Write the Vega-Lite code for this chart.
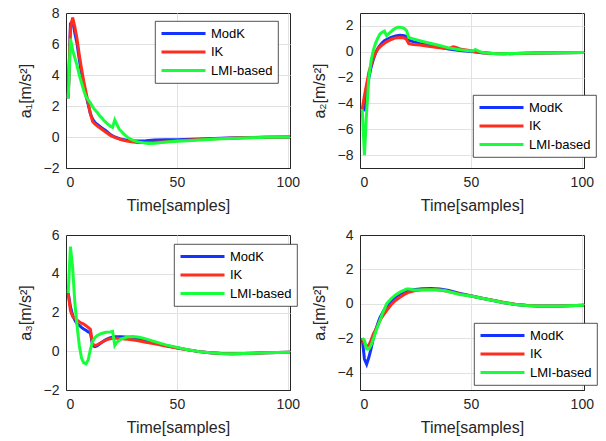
{
  "$schema": "https://vega.github.io/schema/vega-lite/v6.json",
  "background": "white",
  "padding": {"left": 16, "top": 5, "right": 5, "bottom": 5},
  "config": {
    "font": "Liberation Sans",
    "view": {"stroke": "#262626", "strokeWidth": 1},
    "axis": {
      "labelFont": "Liberation Sans", "labelFontSize": 14, "labelColor": "#262626",
      "titleFont": "Liberation Sans", "titleFontSize": 16, "titleFontWeight": "normal", "titleColor": "#262626",
      "gridColor": "#e2e2e2", "gridWidth": 1, "domain": true, "domainColor": "#262626", "domainWidth": 1, "ticks": false, "labelPadding": 7
    },
    "axisX": {"titlePadding": 8},
    "axisY": {"titlePadding": 10},
    "legend": {
      "symbolType": "stroke", "symbolSize": 1936, "symbolStrokeWidth": 3,
      "labelFont": "Liberation Sans", "labelFontSize": 13, "labelColor": "#000000",
      "padding": 5, "strokeColor": "#262626", "strokeWidth": 0.8, "fillColor": "white",
      "clipHeight": 15, "rowPadding": 3.5, "labelOffset": 4
    }
  },
  "datasets": {
    "p1": [
      {"s":"ModK","x":1,"y":2.5},{"s":"ModK","x":2,"y":7.3},{"s":"ModK","x":3,"y":7.5},{"s":"ModK","x":4,"y":6.7},{"s":"ModK","x":5,"y":6.0},{"s":"ModK","x":6,"y":5.0},{"s":"ModK","x":7,"y":4.1},{"s":"ModK","x":8,"y":3.3},{"s":"ModK","x":9,"y":2.7},{"s":"ModK","x":10,"y":2.1},{"s":"ModK","x":11,"y":1.5},{"s":"ModK","x":12,"y":1.15},{"s":"ModK","x":13,"y":0.95},{"s":"ModK","x":14,"y":0.82},{"s":"ModK","x":16,"y":0.6},{"s":"ModK","x":18,"y":0.4},{"s":"ModK","x":20,"y":0.15},{"s":"ModK","x":22,"y":0.0},{"s":"ModK","x":25,"y":-0.15},{"s":"ModK","x":28,"y":-0.22},{"s":"ModK","x":32,"y":-0.25},{"s":"ModK","x":36,"y":-0.24},{"s":"ModK","x":40,"y":-0.2},{"s":"ModK","x":45,"y":-0.18},{"s":"ModK","x":50,"y":-0.17},{"s":"ModK","x":60,"y":-0.13},{"s":"ModK","x":70,"y":-0.08},{"s":"ModK","x":80,"y":-0.04},{"s":"ModK","x":90,"y":-0.02},{"s":"ModK","x":101,"y":0.0},
      {"s":"IK","x":1,"y":2.5},{"s":"IK","x":2,"y":7.0},{"s":"IK","x":3,"y":7.7},{"s":"IK","x":4,"y":7.1},{"s":"IK","x":5,"y":6.3},{"s":"IK","x":6,"y":5.3},{"s":"IK","x":7,"y":4.4},{"s":"IK","x":8,"y":3.6},{"s":"IK","x":9,"y":2.9},{"s":"IK","x":10,"y":2.2},{"s":"IK","x":11,"y":1.5},{"s":"IK","x":12,"y":1.0},{"s":"IK","x":13,"y":0.85},{"s":"IK","x":14,"y":0.72},{"s":"IK","x":16,"y":0.52},{"s":"IK","x":18,"y":0.3},{"s":"IK","x":20,"y":0.1},{"s":"IK","x":22,"y":-0.02},{"s":"IK","x":25,"y":-0.18},{"s":"IK","x":28,"y":-0.28},{"s":"IK","x":32,"y":-0.35},{"s":"IK","x":36,"y":-0.36},{"s":"IK","x":40,"y":-0.34},{"s":"IK","x":45,"y":-0.3},{"s":"IK","x":50,"y":-0.24},{"s":"IK","x":60,"y":-0.16},{"s":"IK","x":70,"y":-0.1},{"s":"IK","x":80,"y":-0.05},{"s":"IK","x":90,"y":-0.02},{"s":"IK","x":101,"y":0.0},
      {"s":"LMI-based","x":1,"y":2.5},{"s":"LMI-based","x":2,"y":6.35},{"s":"LMI-based","x":3,"y":5.6},{"s":"LMI-based","x":4,"y":5.1},{"s":"LMI-based","x":5,"y":4.6},{"s":"LMI-based","x":6,"y":4.0},{"s":"LMI-based","x":7,"y":3.5},{"s":"LMI-based","x":8,"y":3.0},{"s":"LMI-based","x":9,"y":2.6},{"s":"LMI-based","x":10,"y":2.4},{"s":"LMI-based","x":11,"y":2.2},{"s":"LMI-based","x":12,"y":1.95},{"s":"LMI-based","x":13,"y":1.75},{"s":"LMI-based","x":14,"y":1.6},{"s":"LMI-based","x":15,"y":1.4},{"s":"LMI-based","x":16,"y":1.25},{"s":"LMI-based","x":17,"y":1.08},{"s":"LMI-based","x":18,"y":0.95},{"s":"LMI-based","x":19,"y":0.82},{"s":"LMI-based","x":20,"y":0.7},{"s":"LMI-based","x":21,"y":0.62},{"s":"LMI-based","x":22,"y":1.1},{"s":"LMI-based","x":23,"y":0.8},{"s":"LMI-based","x":24,"y":0.5},{"s":"LMI-based","x":25,"y":0.35},{"s":"LMI-based","x":26,"y":0.2},{"s":"LMI-based","x":27,"y":0.08},{"s":"LMI-based","x":28,"y":-0.05},{"s":"LMI-based","x":30,"y":-0.2},{"s":"LMI-based","x":32,"y":-0.3},{"s":"LMI-based","x":35,"y":-0.38},{"s":"LMI-based","x":37,"y":-0.42},{"s":"LMI-based","x":40,"y":-0.4},{"s":"LMI-based","x":45,"y":-0.33},{"s":"LMI-based","x":50,"y":-0.28},{"s":"LMI-based","x":55,"y":-0.24},{"s":"LMI-based","x":60,"y":-0.2},{"s":"LMI-based","x":70,"y":-0.12},{"s":"LMI-based","x":80,"y":-0.06},{"s":"LMI-based","x":90,"y":-0.02},{"s":"LMI-based","x":101,"y":0.0}
    ],
    "p2": [
      {"s":"ModK","x":1,"y":-4.45},{"s":"ModK","x":2,"y":-4.5},{"s":"ModK","x":3,"y":-3.0},{"s":"ModK","x":4,"y":-2.0},{"s":"ModK","x":5,"y":-1.2},{"s":"ModK","x":6,"y":-0.6},{"s":"ModK","x":7,"y":-0.1},{"s":"ModK","x":8,"y":0.25},{"s":"ModK","x":9,"y":0.5},{"s":"ModK","x":10,"y":0.7},{"s":"ModK","x":11,"y":0.85},{"s":"ModK","x":12,"y":0.95},{"s":"ModK","x":14,"y":1.12},{"s":"ModK","x":16,"y":1.22},{"s":"ModK","x":18,"y":1.27},{"s":"ModK","x":20,"y":1.25},{"s":"ModK","x":21,"y":1.15},{"s":"ModK","x":22,"y":0.88},{"s":"ModK","x":24,"y":0.78},{"s":"ModK","x":27,"y":0.65},{"s":"ModK","x":30,"y":0.55},{"s":"ModK","x":35,"y":0.38},{"s":"ModK","x":40,"y":0.22},{"s":"ModK","x":45,"y":0.1},{"s":"ModK","x":50,"y":0.02},{"s":"ModK","x":55,"y":-0.08},{"s":"ModK","x":60,"y":-0.14},{"s":"ModK","x":65,"y":-0.15},{"s":"ModK","x":70,"y":-0.14},{"s":"ModK","x":80,"y":-0.1},{"s":"ModK","x":90,"y":-0.07},{"s":"ModK","x":101,"y":-0.05},
      {"s":"IK","x":1,"y":-4.45},{"s":"IK","x":2,"y":-3.4},{"s":"IK","x":3,"y":-2.5},{"s":"IK","x":4,"y":-1.6},{"s":"IK","x":5,"y":-1.0},{"s":"IK","x":6,"y":-0.5},{"s":"IK","x":7,"y":-0.1},{"s":"IK","x":8,"y":0.2},{"s":"IK","x":9,"y":0.38},{"s":"IK","x":10,"y":0.52},{"s":"IK","x":11,"y":0.65},{"s":"IK","x":12,"y":0.77},{"s":"IK","x":14,"y":0.95},{"s":"IK","x":16,"y":1.07},{"s":"IK","x":18,"y":1.1},{"s":"IK","x":20,"y":1.07},{"s":"IK","x":21,"y":0.95},{"s":"IK","x":22,"y":0.62},{"s":"IK","x":24,"y":0.56},{"s":"IK","x":27,"y":0.52},{"s":"IK","x":30,"y":0.45},{"s":"IK","x":35,"y":0.33},{"s":"IK","x":40,"y":0.24},{"s":"IK","x":42,"y":0.38},{"s":"IK","x":43,"y":0.35},{"s":"IK","x":45,"y":0.22},{"s":"IK","x":50,"y":0.07},{"s":"IK","x":55,"y":-0.08},{"s":"IK","x":60,"y":-0.14},{"s":"IK","x":65,"y":-0.15},{"s":"IK","x":70,"y":-0.14},{"s":"IK","x":80,"y":-0.1},{"s":"IK","x":90,"y":-0.07},{"s":"IK","x":101,"y":-0.05},
      {"s":"LMI-based","x":1,"y":-4.45},{"s":"LMI-based","x":2,"y":-8.0},{"s":"LMI-based","x":3,"y":-4.6},{"s":"LMI-based","x":4,"y":-2.0},{"s":"LMI-based","x":5,"y":-0.7},{"s":"LMI-based","x":6,"y":0.1},{"s":"LMI-based","x":7,"y":0.65},{"s":"LMI-based","x":8,"y":1.05},{"s":"LMI-based","x":9,"y":1.37},{"s":"LMI-based","x":10,"y":1.5},{"s":"LMI-based","x":11,"y":1.6},{"s":"LMI-based","x":12,"y":1.24},{"s":"LMI-based","x":13,"y":1.4},{"s":"LMI-based","x":14,"y":1.55},{"s":"LMI-based","x":15,"y":1.7},{"s":"LMI-based","x":16,"y":1.82},{"s":"LMI-based","x":17,"y":1.9},{"s":"LMI-based","x":18,"y":1.9},{"s":"LMI-based","x":19,"y":1.87},{"s":"LMI-based","x":20,"y":1.8},{"s":"LMI-based","x":21,"y":1.62},{"s":"LMI-based","x":22,"y":1.1},{"s":"LMI-based","x":24,"y":1.0},{"s":"LMI-based","x":27,"y":0.85},{"s":"LMI-based","x":30,"y":0.72},{"s":"LMI-based","x":35,"y":0.52},{"s":"LMI-based","x":40,"y":0.3},{"s":"LMI-based","x":45,"y":0.15},{"s":"LMI-based","x":50,"y":0.05},{"s":"LMI-based","x":51,"y":0.05},{"s":"LMI-based","x":52,"y":0.18},{"s":"LMI-based","x":53,"y":0.08},{"s":"LMI-based","x":55,"y":-0.05},{"s":"LMI-based","x":58,"y":-0.12},{"s":"LMI-based","x":62,"y":-0.15},{"s":"LMI-based","x":70,"y":-0.13},{"s":"LMI-based","x":80,"y":-0.1},{"s":"LMI-based","x":90,"y":-0.07},{"s":"LMI-based","x":101,"y":-0.05}
    ],
    "p3": [
      {"s":"ModK","x":1,"y":3.0},{"s":"ModK","x":2,"y":2.3},{"s":"ModK","x":3,"y":1.85},{"s":"ModK","x":4,"y":1.6},{"s":"ModK","x":5,"y":1.42},{"s":"ModK","x":6,"y":1.33},{"s":"ModK","x":7,"y":1.23},{"s":"ModK","x":8,"y":1.15},{"s":"ModK","x":9,"y":1.08},{"s":"ModK","x":10,"y":1.0},{"s":"ModK","x":11,"y":0.95},{"s":"ModK","x":12,"y":0.3},{"s":"ModK","x":13,"y":0.24},{"s":"ModK","x":14,"y":0.28},{"s":"ModK","x":16,"y":0.45},{"s":"ModK","x":18,"y":0.6},{"s":"ModK","x":20,"y":0.7},{"s":"ModK","x":22,"y":0.75},{"s":"ModK","x":25,"y":0.75},{"s":"ModK","x":28,"y":0.72},{"s":"ModK","x":32,"y":0.62},{"s":"ModK","x":36,"y":0.52},{"s":"ModK","x":40,"y":0.42},{"s":"ModK","x":45,"y":0.3},{"s":"ModK","x":50,"y":0.18},{"s":"ModK","x":55,"y":0.07},{"s":"ModK","x":60,"y":-0.02},{"s":"ModK","x":65,"y":-0.08},{"s":"ModK","x":70,"y":-0.12},{"s":"ModK","x":75,"y":-0.13},{"s":"ModK","x":80,"y":-0.12},{"s":"ModK","x":90,"y":-0.08},{"s":"ModK","x":101,"y":-0.05},
      {"s":"IK","x":1,"y":3.0},{"s":"IK","x":2,"y":2.1},{"s":"IK","x":3,"y":1.8},{"s":"IK","x":4,"y":1.68},{"s":"IK","x":5,"y":1.6},{"s":"IK","x":6,"y":1.52},{"s":"IK","x":7,"y":1.45},{"s":"IK","x":8,"y":1.4},{"s":"IK","x":9,"y":1.32},{"s":"IK","x":10,"y":1.23},{"s":"IK","x":11,"y":1.13},{"s":"IK","x":12,"y":0.38},{"s":"IK","x":13,"y":0.3},{"s":"IK","x":14,"y":0.33},{"s":"IK","x":16,"y":0.45},{"s":"IK","x":18,"y":0.58},{"s":"IK","x":20,"y":0.65},{"s":"IK","x":22,"y":0.68},{"s":"IK","x":25,"y":0.65},{"s":"IK","x":28,"y":0.62},{"s":"IK","x":32,"y":0.55},{"s":"IK","x":36,"y":0.46},{"s":"IK","x":40,"y":0.38},{"s":"IK","x":45,"y":0.27},{"s":"IK","x":50,"y":0.17},{"s":"IK","x":55,"y":0.07},{"s":"IK","x":60,"y":-0.02},{"s":"IK","x":65,"y":-0.08},{"s":"IK","x":70,"y":-0.12},{"s":"IK","x":75,"y":-0.13},{"s":"IK","x":80,"y":-0.12},{"s":"IK","x":90,"y":-0.08},{"s":"IK","x":101,"y":-0.05},
      {"s":"LMI-based","x":1,"y":3.0},{"s":"LMI-based","x":2,"y":5.4},{"s":"LMI-based","x":3,"y":4.3},{"s":"LMI-based","x":4,"y":2.5},{"s":"LMI-based","x":5,"y":1.3},{"s":"LMI-based","x":6,"y":0.3},{"s":"LMI-based","x":7,"y":-0.35},{"s":"LMI-based","x":8,"y":-0.6},{"s":"LMI-based","x":9,"y":-0.65},{"s":"LMI-based","x":10,"y":-0.45},{"s":"LMI-based","x":11,"y":0.1},{"s":"LMI-based","x":12,"y":0.5},{"s":"LMI-based","x":13,"y":0.7},{"s":"LMI-based","x":14,"y":0.8},{"s":"LMI-based","x":16,"y":0.92},{"s":"LMI-based","x":18,"y":0.98},{"s":"LMI-based","x":20,"y":1.0},{"s":"LMI-based","x":21,"y":1.03},{"s":"LMI-based","x":22,"y":0.3},{"s":"LMI-based","x":23,"y":0.48},{"s":"LMI-based","x":25,"y":0.64},{"s":"LMI-based","x":28,"y":0.75},{"s":"LMI-based","x":30,"y":0.76},{"s":"LMI-based","x":33,"y":0.72},{"s":"LMI-based","x":36,"y":0.64},{"s":"LMI-based","x":40,"y":0.5},{"s":"LMI-based","x":45,"y":0.33},{"s":"LMI-based","x":50,"y":0.2},{"s":"LMI-based","x":55,"y":0.08},{"s":"LMI-based","x":60,"y":-0.02},{"s":"LMI-based","x":65,"y":-0.08},{"s":"LMI-based","x":70,"y":-0.12},{"s":"LMI-based","x":75,"y":-0.13},{"s":"LMI-based","x":80,"y":-0.12},{"s":"LMI-based","x":90,"y":-0.08},{"s":"LMI-based","x":101,"y":-0.05}
    ],
    "p4": [
      {"s":"ModK","x":1,"y":-2.0},{"s":"ModK","x":2,"y":-3.2},{"s":"ModK","x":3,"y":-3.5},{"s":"ModK","x":4,"y":-3.1},{"s":"ModK","x":5,"y":-2.6},{"s":"ModK","x":6,"y":-2.0},{"s":"ModK","x":7,"y":-1.55},{"s":"ModK","x":8,"y":-1.15},{"s":"ModK","x":9,"y":-0.8},{"s":"ModK","x":10,"y":-0.55},{"s":"ModK","x":11,"y":-0.33},{"s":"ModK","x":12,"y":-0.12},{"s":"ModK","x":14,"y":0.15},{"s":"ModK","x":16,"y":0.4},{"s":"ModK","x":18,"y":0.58},{"s":"ModK","x":20,"y":0.7},{"s":"ModK","x":22,"y":0.78},{"s":"ModK","x":25,"y":0.84},{"s":"ModK","x":28,"y":0.88},{"s":"ModK","x":32,"y":0.9},{"s":"ModK","x":36,"y":0.86},{"s":"ModK","x":40,"y":0.78},{"s":"ModK","x":45,"y":0.6},{"s":"ModK","x":50,"y":0.47},{"s":"ModK","x":55,"y":0.33},{"s":"ModK","x":60,"y":0.2},{"s":"ModK","x":65,"y":0.07},{"s":"ModK","x":70,"y":-0.03},{"s":"ModK","x":75,"y":-0.09},{"s":"ModK","x":80,"y":-0.12},{"s":"ModK","x":90,"y":-0.12},{"s":"ModK","x":101,"y":-0.08},
      {"s":"IK","x":1,"y":-2.0},{"s":"IK","x":2,"y":-2.35},{"s":"IK","x":3,"y":-2.45},{"s":"IK","x":4,"y":-2.4},{"s":"IK","x":5,"y":-2.1},{"s":"IK","x":6,"y":-1.75},{"s":"IK","x":7,"y":-1.5},{"s":"IK","x":8,"y":-1.25},{"s":"IK","x":9,"y":-0.97},{"s":"IK","x":10,"y":-0.75},{"s":"IK","x":11,"y":-0.57},{"s":"IK","x":12,"y":-0.39},{"s":"IK","x":14,"y":-0.05},{"s":"IK","x":16,"y":0.2},{"s":"IK","x":18,"y":0.38},{"s":"IK","x":20,"y":0.55},{"s":"IK","x":22,"y":0.68},{"s":"IK","x":25,"y":0.77},{"s":"IK","x":28,"y":0.82},{"s":"IK","x":32,"y":0.84},{"s":"IK","x":36,"y":0.8},{"s":"IK","x":40,"y":0.72},{"s":"IK","x":45,"y":0.57},{"s":"IK","x":50,"y":0.46},{"s":"IK","x":55,"y":0.33},{"s":"IK","x":60,"y":0.21},{"s":"IK","x":65,"y":0.08},{"s":"IK","x":70,"y":-0.02},{"s":"IK","x":75,"y":-0.08},{"s":"IK","x":80,"y":-0.12},{"s":"IK","x":90,"y":-0.12},{"s":"IK","x":101,"y":-0.08},
      {"s":"LMI-based","x":1,"y":-2.0},{"s":"LMI-based","x":2,"y":-2.1},{"s":"LMI-based","x":3,"y":-2.62},{"s":"LMI-based","x":4,"y":-2.62},{"s":"LMI-based","x":5,"y":-2.4},{"s":"LMI-based","x":6,"y":-2.04},{"s":"LMI-based","x":7,"y":-1.65},{"s":"LMI-based","x":8,"y":-1.3},{"s":"LMI-based","x":9,"y":-0.97},{"s":"LMI-based","x":10,"y":-0.6},{"s":"LMI-based","x":11,"y":-0.3},{"s":"LMI-based","x":12,"y":0.0},{"s":"LMI-based","x":14,"y":0.3},{"s":"LMI-based","x":16,"y":0.52},{"s":"LMI-based","x":18,"y":0.68},{"s":"LMI-based","x":20,"y":0.8},{"s":"LMI-based","x":21,"y":0.86},{"s":"LMI-based","x":22,"y":0.87},{"s":"LMI-based","x":23,"y":0.85},{"s":"LMI-based","x":24,"y":0.8},{"s":"LMI-based","x":26,"y":0.8},{"s":"LMI-based","x":30,"y":0.82},{"s":"LMI-based","x":34,"y":0.82},{"s":"LMI-based","x":38,"y":0.78},{"s":"LMI-based","x":45,"y":0.55},{"s":"LMI-based","x":50,"y":0.46},{"s":"LMI-based","x":55,"y":0.33},{"s":"LMI-based","x":60,"y":0.2},{"s":"LMI-based","x":65,"y":0.07},{"s":"LMI-based","x":70,"y":-0.03},{"s":"LMI-based","x":75,"y":-0.09},{"s":"LMI-based","x":80,"y":-0.12},{"s":"LMI-based","x":90,"y":-0.12},{"s":"LMI-based","x":101,"y":-0.08}
    ]
  },
  "columns": 2,
  "bounds": "flush",
  "spacing": {"row": 67, "column": 70},
  "resolve": {"scale": {"color": "independent", "x": "independent", "y": "independent"}, "legend": {"color": "independent"}},
  "concat": [
    {
      "width": 224, "height": 155,
      "data": {"name": "p1"},
      "mark": {"type": "line", "strokeWidth": 3, "clip": true},
      "encoding": {
        "x": {"field": "x", "type": "quantitative", "scale": {"domain": [0, 101], "nice": false, "zero": false}, "axis": {"values": [0, 50, 100], "title": "Time[samples]"}},
        "y": {"field": "y", "type": "quantitative", "scale": {"domain": [-2, 8], "nice": false, "zero": false}, "axis": {"values": [-2, 0, 2, 4, 6, 8], "title": "a₁[m/s²]", "gridColor": {"condition": {"test": "datum.value == 8 || datum.value == -2", "value": "transparent"}, "value": "#e2e2e2"}}},
        "color": {"field": "s", "type": "nominal", "scale": {"domain": ["ModK", "IK", "LMI-based"], "range": ["#1533ff", "#ff2d1d", "#17ff3b"]}, "legend": {"orient": "none", "legendX": 89, "legendY": 8, "title": null}}
      }
    },
    {
      "width": 224, "height": 155,
      "data": {"name": "p2"},
      "mark": {"type": "line", "strokeWidth": 3, "clip": true},
      "encoding": {
        "x": {"field": "x", "type": "quantitative", "scale": {"domain": [0, 101], "nice": false, "zero": false}, "axis": {"values": [0, 50, 100], "title": "Time[samples]"}},
        "y": {"field": "y", "type": "quantitative", "scale": {"domain": [-9, 3], "nice": false, "zero": false}, "axis": {"values": [-8, -6, -4, -2, 0, 2], "title": "a₂[m/s²]"}},
        "color": {"field": "s", "type": "nominal", "scale": {"domain": ["ModK", "IK", "LMI-based"], "range": ["#1533ff", "#ff2d1d", "#17ff3b"]}, "legend": {"orient": "none", "legendX": 113, "legendY": 82, "title": null}}
      }
    },
    {
      "width": 224, "height": 155,
      "data": {"name": "p3"},
      "mark": {"type": "line", "strokeWidth": 3, "clip": true},
      "encoding": {
        "x": {"field": "x", "type": "quantitative", "scale": {"domain": [0, 101], "nice": false, "zero": false}, "axis": {"values": [0, 50, 100], "title": "Time[samples]"}},
        "y": {"field": "y", "type": "quantitative", "scale": {"domain": [-2, 6], "nice": false, "zero": false}, "axis": {"values": [-2, 0, 2, 4, 6], "title": "a₃[m/s²]", "gridColor": {"condition": {"test": "datum.value == 6 || datum.value == -2", "value": "transparent"}, "value": "#e2e2e2"}}},
        "color": {"field": "s", "type": "nominal", "scale": {"domain": ["ModK", "IK", "LMI-based"], "range": ["#1533ff", "#ff2d1d", "#17ff3b"]}, "legend": {"orient": "none", "legendX": 108, "legendY": 9, "title": null}}
      }
    },
    {
      "width": 224, "height": 155,
      "data": {"name": "p4"},
      "mark": {"type": "line", "strokeWidth": 3, "clip": true},
      "encoding": {
        "x": {"field": "x", "type": "quantitative", "scale": {"domain": [0, 101], "nice": false, "zero": false}, "axis": {"values": [0, 50, 100], "title": "Time[samples]"}},
        "y": {"field": "y", "type": "quantitative", "scale": {"domain": [-5, 4], "nice": false, "zero": false}, "axis": {"values": [-4, -2, 0, 2, 4], "title": "a₄[m/s²]", "gridColor": {"condition": {"test": "datum.value == 4", "value": "transparent"}, "value": "#e2e2e2"}}},
        "color": {"field": "s", "type": "nominal", "scale": {"domain": ["ModK", "IK", "LMI-based"], "range": ["#1533ff", "#ff2d1d", "#17ff3b"]}, "legend": {"orient": "none", "legendX": 114, "legendY": 88, "title": null}}
      }
    }
  ]
}
